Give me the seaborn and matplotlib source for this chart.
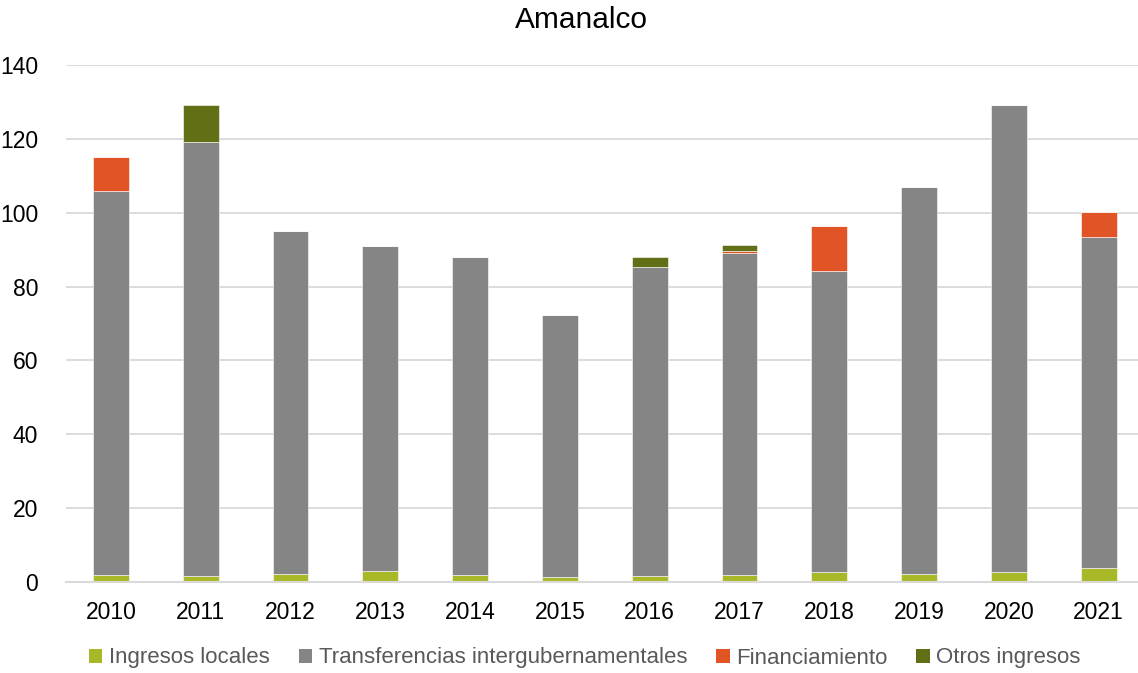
import numpy as np
import pandas as pd
import matplotlib
matplotlib.use("Agg")
import matplotlib.pyplot as plt
import seaborn as sns
from matplotlib.patches import Patch

years = ['2010', '2011', '2012', '2013', '2014', '2015', '2016', '2017', '2018', '2019', '2020', '2021']
ingresos_locales = [1.8, 1.5, 2.3, 2.9, 1.8, 1.4, 1.7, 2.0, 2.7, 2.1, 2.7, 3.7]
transferencias = [104.2, 117.6, 92.7, 88.0, 86.1, 70.9, 83.5, 87.1, 81.5, 104.8, 126.6, 89.8]
financiamiento = [9.2, 0.0, 0.0, 0.0, 0.0, 0.0, 0.0, 0.4, 12.2, 0.0, 0.0, 6.6]
otros_ingresos = [0.0, 10.0, 0.0, 0.0, 0.0, 0.0, 2.7, 1.7, 0.0, 0.0, 0.0, 0.0]

series_names = ['Ingresos locales', 'Transferencias intergubernamentales', 'Financiamiento', 'Otros ingresos']
colors = ['#A9B826', '#858585', '#E05426', '#636F17']

sns.set_theme(style="white")
plt.rcParams['font.family'] = ['Liberation Sans', 'DejaVu Sans']

fig = plt.figure(figsize=(11.38, 6.73), dpi=100)
ax = fig.add_axes([66 / 1138, 1 - 582 / 673, 1 - 66 / 1138, (582 - 65) / 673])

data = [ingresos_locales, transferencias, financiamiento, otros_ingresos]
bottom = np.zeros(len(years))
for name, vals, col in zip(series_names, data, colors):
    df = pd.DataFrame({'year': years, 'value': vals})
    sns.barplot(data=df, x='year', y='value', order=years, color=col, width=0.40,
                bottom=bottom, ax=ax, saturation=1, edgecolor='#FFFFFF', linewidth=0.4)
    bottom = bottom + np.array(vals)

ax.set_xlim(-0.5, (1138 - 66) / 89.8 - 0.5)
ax.set_ylim(0, 140)
ax.set_yticks(range(0, 141, 20))
ax.yaxis.grid(True, color='#D9D9D9', linewidth=1.3)
ax.set_axisbelow(True)
for s in ['top', 'right', 'left']:
    ax.spines[s].set_visible(False)
ax.spines['bottom'].set_color('#D9D9D9')
ax.spines['bottom'].set_linewidth(1.5)
ax.set_xlabel('')
ax.set_ylabel('')
ax.tick_params(axis='both', length=0, labelsize=16.5, labelcolor='#000000')
ax.tick_params(axis='y', pad=20)
ax.tick_params(axis='x', pad=14)

fig.text(581 / 1138, 1 - 20 / 673, 'Amanalco', ha='center', va='center', fontsize=21.5, color='#000000')

handles = [Patch(facecolor=c, edgecolor='none') for c in colors]
leg = fig.legend(handles, series_names, loc='center', bbox_to_anchor=(585 / 1138, 1 - 658 / 673),
                 ncol=4, frameon=False, fontsize=16, handlelength=0.6, handleheight=0.6,
                 handletextpad=0.3, columnspacing=1.3)
for t in leg.get_texts():
    t.set_color('#595959')

fig.savefig('out.png', dpi=100)
